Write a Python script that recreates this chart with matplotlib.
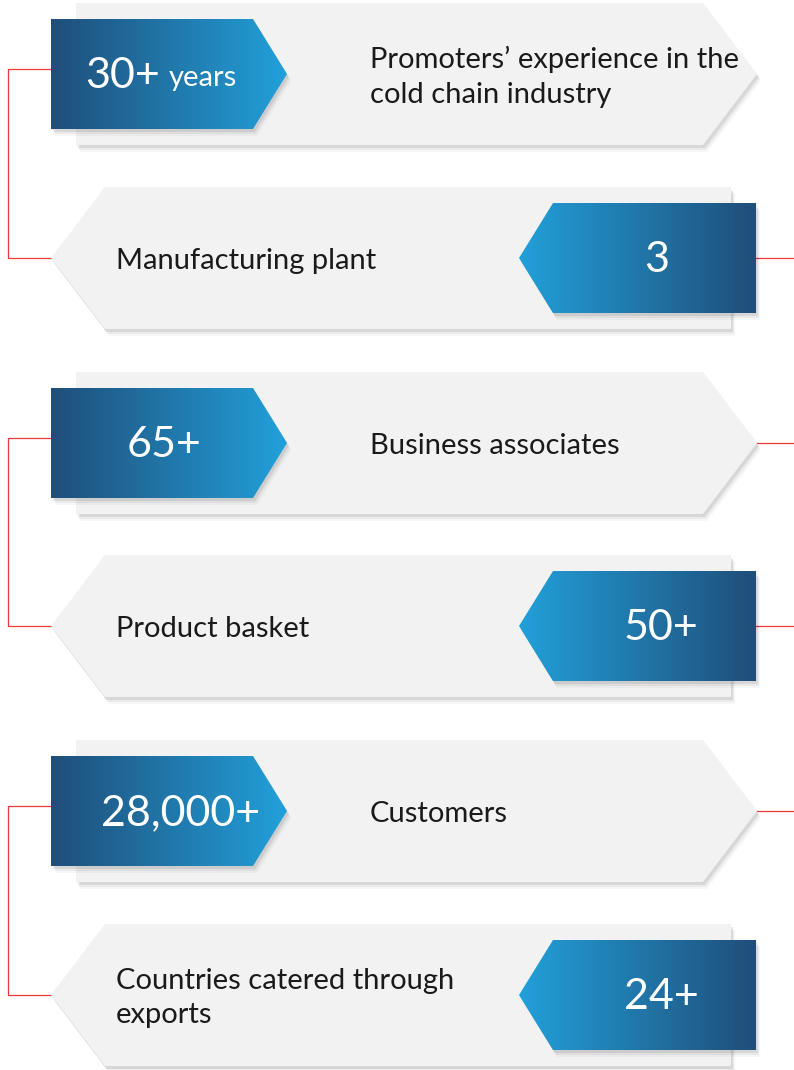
import numpy as np
import matplotlib.pyplot as plt
from matplotlib.patches import Polygon
from matplotlib.colors import LinearSegmentedColormap

plt.rcParams['font.family'] = ['Lato', 'DejaVu Sans']

# content of the six rows, top to bottom
values = ["30+", "3", "65+", "50+", "28,000+", "24+"]
units = ["years", "", "", "", "", ""]
labels = ["Promoters\u2019 experience in the\ncold chain industry",
          "Manufacturing plant",
          "Business associates",
          "Product basket",
          "Customers",
          "Countries catered through\nexports"]

W, H = 794, 1070
row_y = [74, 258, 443, 626, 811, 995]
num_cx = [161, 657, 164, 661, 181, 661]   # where the badge text sits

GRAY = "#f2f2f2"
RED = "#e8383d"
DARK = "#1f4e79"
LIGHT = "#22a0da"
cmap = LinearSegmentedColormap.from_list("badge", [DARK, LIGHT])

fig = plt.figure(figsize=(W / 100, H / 100), dpi=100)
ax = fig.add_axes([0, 0, 1, 1])
ax.set_xlim(0, W)
ax.set_ylim(H, 0)
ax.axis('off')


def shadowed(pts, color, z):
    """draw a polygon with a soft drop shadow below/right"""
    pts = np.asarray(pts, float)
    for off, a in [(7, 0.03), (5, 0.05), (3, 0.08)]:
        ax.add_patch(Polygon(pts + [off * 0.6, off], closed=True, fc='black',
                             ec='none', alpha=a, zorder=z - 0.5))
    p = Polygon(pts, closed=True, fc=color, ec='none', zorder=z)
    ax.add_patch(p)
    return p


def gradient(patch, x0, x1, y0, y1, flip, z):
    g = np.linspace(0, 1, 256)
    if flip:
        g = g[::-1]
    im = ax.imshow(g[None, :], cmap=cmap, extent=[x0, x1, y1, y0], aspect='auto',
                   interpolation='bicubic', zorder=z)
    im.set_clip_path(patch)


gh, bh = 71, 55
for i, (yc, val, unit, lab) in enumerate(zip(row_y, values, units, labels)):
    right = i % 2 == 0
    if right:
        gray = [(76, yc - gh), (703, yc - gh), (757, yc), (703, yc + gh), (76, yc + gh)]
        badge = [(51, yc - bh), (253, yc - bh), (287, yc), (253, yc + bh), (51, yc + bh)]
        bx0, bx1 = 51, 287
        lab_x = 370
    else:
        gray = [(105, yc - gh), (731, yc - gh), (731, yc + gh), (105, yc + gh), (51, yc)]
        badge = [(553, yc - bh), (756, yc - bh), (756, yc + bh), (553, yc + bh), (519, yc)]
        bx0, bx1 = 519, 756
        lab_x = 116
    shadowed(gray, GRAY, 1)
    bp = shadowed(badge, 'none', 3)
    gradient(bp, bx0, bx1, yc - bh, yc + bh, not right, 3.2)

    ax.text(lab_x, yc + 3, lab, ha='left', va='center', fontsize=21, color='#1a1a1a',
            linespacing=1.42, zorder=5)
    if unit:
        t = ax.text(0, yc + 2, val, ha='left', va='center', fontsize=31,
                    color='white', zorder=5)
        u = ax.text(0, yc + 12, unit, ha='left', va='baseline', fontsize=21,
                    color='white', zorder=5)
        fig.canvas.draw()
        inv = ax.transData.inverted()
        w1 = t.get_window_extent().transformed(inv).width
        w2 = u.get_window_extent().transformed(inv).width
        gap = 8
        x0 = num_cx[i] - (w1 + gap + w2) / 2
        t.set_x(x0)
        u.set_x(x0 + w1 + gap)
    else:
        ax.text(num_cx[i], yc + 2, val, ha='center', va='center', fontsize=31,
                color='white', zorder=5)

# red connector brackets on the left, stubs running off the right edge
for a, b in [(0, 1), (2, 3), (4, 5)]:
    ya, yb = row_y[a] - 5, row_y[b]
    ax.plot([51, 8, 8, 51], [ya, ya, yb, yb], color=RED, lw=0.9, zorder=0.5)
for i in [1, 2, 3, 4]:
    x0 = 756 if i % 2 else 757
    ax.plot([x0, W], [row_y[i], row_y[i]], color=RED, lw=0.9, zorder=0.5)

ax.set_xlim(0, W)
ax.set_ylim(H, 0)
fig.savefig("out.png", dpi=100, facecolor='white')
